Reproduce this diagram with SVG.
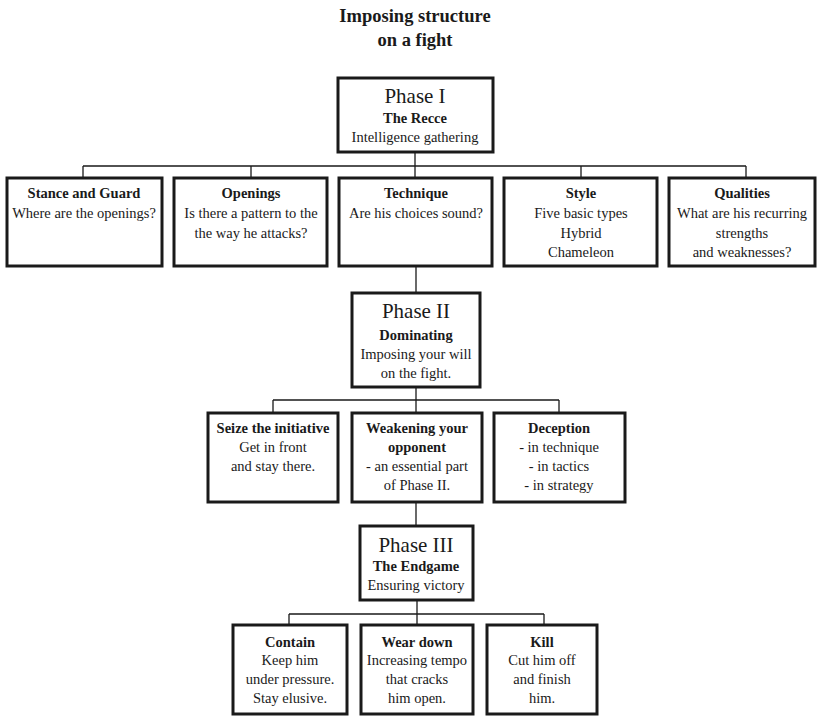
<svg xmlns="http://www.w3.org/2000/svg" width="818" height="716" viewBox="0 0 818 716">
<style>
.box{fill:#fff;stroke:#1a1a1a;stroke-width:3}
.ln{fill:none;stroke:#1a1a1a;stroke-width:1.3}
text{font-family:"Liberation Serif","DejaVu Serif",serif;fill:#1a1a1a;text-anchor:middle}
.t{font-size:18.5px;font-weight:bold}
.ph{font-size:21px}
.b{font-size:14.5px;font-weight:bold}
.n{font-size:14.5px}
</style>
<rect width="818" height="716" fill="#fff"/>
<g id="title">
<text class="t" x="415" y="22">Imposing structure</text>
<text class="t" x="415" y="46">on a fight</text>
</g>
<g id="connectors">
<path class="ln" d="M415 152V166M83 166H746M83 166V178M251 166V178M415 166V178M581 166V178M746 166V178"/>
<path class="ln" d="M416 266V293"/>
<path class="ln" d="M416 387V400M273 400H559M273 400V413M416 400V413M559 400V413"/>
<path class="ln" d="M416 502V526"/>
<path class="ln" d="M417 600V614M289 614H544M289 614V625M417 614V625M544 614V625"/>
</g>
<g id="phase1">
<rect class="box" x="338" y="78" width="155" height="74"/>
<text class="ph" x="415" y="103">Phase I</text>
<text class="b" x="415" y="123">The Recce</text>
<text class="n" x="415" y="142">Intelligence gathering</text>
</g>
<g id="stance">
<rect class="box" x="7" y="178" width="155" height="88"/>
<text class="b" x="84" y="198">Stance and Guard</text>
<text class="n" x="84" y="218">Where are the openings?</text>
</g>
<g id="openings">
<rect class="box" x="174" y="178" width="153" height="88"/>
<text class="b" x="251" y="198">Openings</text>
<text class="n" x="251" y="218">Is there a pattern to the</text>
<text class="n" x="251" y="238">the way he attacks?</text>
</g>
<g id="technique">
<rect class="box" x="339" y="178" width="153" height="88"/>
<text class="b" x="416" y="198">Technique</text>
<text class="n" x="416" y="218">Are his choices sound?</text>
</g>
<g id="style">
<rect class="box" x="504" y="178" width="153" height="88"/>
<text class="b" x="581" y="198">Style</text>
<text class="n" x="581" y="218">Five basic types</text>
<text class="n" x="581" y="238">Hybrid</text>
<text class="n" x="581" y="257">Chameleon</text>
</g>
<g id="qualities">
<rect class="box" x="669" y="178" width="146" height="88"/>
<text class="b" x="742" y="198">Qualities</text>
<text class="n" x="742" y="218">What are his recurring</text>
<text class="n" x="742" y="238">strengths</text>
<text class="n" x="742" y="257">and weaknesses?</text>
</g>
<g id="phase2">
<rect class="box" x="352" y="293" width="128" height="94"/>
<text class="ph" x="416" y="318">Phase II</text>
<text class="b" x="416" y="340">Dominating</text>
<text class="n" x="416" y="359">Imposing your will</text>
<text class="n" x="416" y="378">on the fight.</text>
</g>
<g id="seize">
<rect class="box" x="208" y="413" width="130" height="89"/>
<text class="b" x="273" y="433">Seize the initiative</text>
<text class="n" x="273" y="452">Get in front</text>
<text class="n" x="273" y="471">and stay there.</text>
</g>
<g id="weakening">
<rect class="box" x="352" y="413" width="130" height="89"/>
<text class="b" x="417" y="433">Weakening your</text>
<text class="b" x="417" y="452">opponent</text>
<text class="n" x="417" y="471">- an essential part</text>
<text class="n" x="417" y="490">of Phase II.</text>
</g>
<g id="deception">
<rect class="box" x="494" y="413" width="131" height="89"/>
<text class="b" x="559" y="433">Deception</text>
<text class="n" x="559" y="452">- in technique</text>
<text class="n" x="559" y="471">- in tactics</text>
<text class="n" x="559" y="490">- in strategy</text>
</g>
<g id="phase3">
<rect class="box" x="360" y="526" width="113" height="74"/>
<text class="ph" x="416" y="552">Phase III</text>
<text class="b" x="416" y="571">The Endgame</text>
<text class="n" x="416" y="590">Ensuring victory</text>
</g>
<g id="contain">
<rect class="box" x="233" y="625" width="114" height="89"/>
<text class="b" x="290" y="647">Contain</text>
<text class="n" x="290" y="665">Keep him</text>
<text class="n" x="290" y="684">under pressure.</text>
<text class="n" x="290" y="703">Stay elusive.</text>
</g>
<g id="weardown">
<rect class="box" x="361" y="625" width="112" height="89"/>
<text class="b" x="417" y="647">Wear down</text>
<text class="n" x="417" y="665">Increasing  tempo</text>
<text class="n" x="417" y="684">that  cracks</text>
<text class="n" x="417" y="703">him open.</text>
</g>
<g id="kill">
<rect class="box" x="487" y="625" width="110" height="89"/>
<text class="b" x="542" y="647">Kill</text>
<text class="n" x="542" y="665">Cut him off</text>
<text class="n" x="542" y="684">and finish</text>
<text class="n" x="542" y="703">him.</text>
</g>
</svg>
